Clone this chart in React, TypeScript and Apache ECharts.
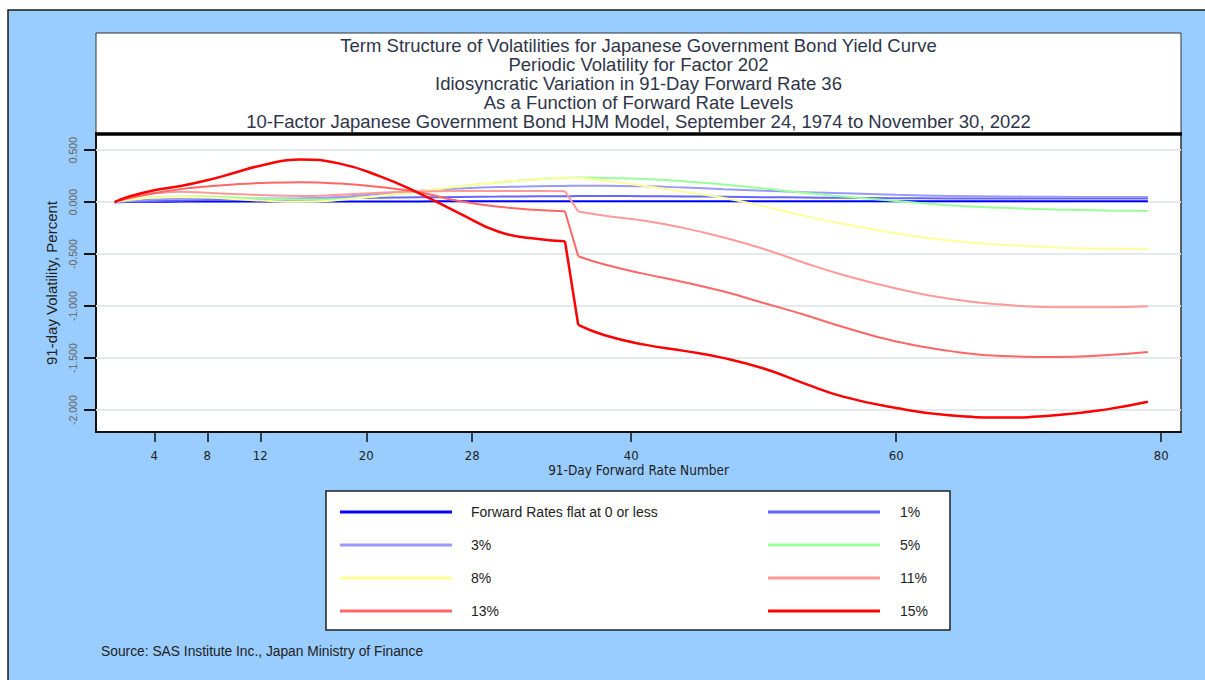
import React, { useEffect, useRef } from "react";
import * as echarts from "echarts";

// ---- data ----
const X_POINTS = [1, 2, 4, 6, 8, 10, 12, 15, 18, 21, 24, 27, 30, 33, 35, 36, 38, 41, 44, 47, 50, 53, 56, 60, 64, 68, 72, 76, 79];
const FLAT = [0, 0.002, 0.004, 0.005, 0.006, 0.006, 0.006, 0.007, 0.007, 0.007, 0.007, 0.008, 0.008, 0.008, 0.008, 0.008, 0.008, 0.008, 0.008, 0.008, 0.008, 0.008, 0.008, 0.008, 0.008, 0.008, 0.008, 0.008, 0.008];
const R1 = [0, 0.003, 0.01, 0.015, 0.02, 0.024, 0.028, 0.033, 0.038, 0.042, 0.046, 0.05, 0.053, 0.056, 0.057, 0.058, 0.058, 0.057, 0.055, 0.052, 0.048, 0.045, 0.041, 0.038, 0.036, 0.035, 0.034, 0.034, 0.034];
const R3 = [0, 0.01, 0.025, 0.035, 0.038, 0.037, 0.035, 0.035, 0.05, 0.08, 0.11, 0.13, 0.145, 0.153, 0.156, 0.157, 0.157, 0.152, 0.14, 0.125, 0.11, 0.095, 0.085, 0.07, 0.06, 0.054, 0.051, 0.05, 0.05];
const R5 = [0, 0.02, 0.045, 0.055, 0.055, 0.045, 0.035, 0.025, 0.03, 0.06, 0.1, 0.15, 0.19, 0.22, 0.232, 0.236, 0.232, 0.222, 0.2, 0.17, 0.13, 0.09, 0.055, 0.01, -0.03, -0.055, -0.07, -0.08, -0.085];
const R8 = [0, 0.02, 0.045, 0.05, 0.045, 0.03, 0.015, 0.003, 0.02, 0.06, 0.105, 0.15, 0.19, 0.22, 0.235, 0.232, 0.205, 0.155, 0.1, 0.04, -0.04, -0.13, -0.21, -0.3, -0.37, -0.41, -0.435, -0.448, -0.45];
const R11 = [0, 0.04, 0.085, 0.1, 0.09, 0.078, 0.068, 0.058, 0.07, 0.09, 0.102, 0.107, 0.108, 0.107, 0.105, -0.09, -0.13, -0.18, -0.25, -0.34, -0.45, -0.58, -0.7, -0.83, -0.93, -0.985, -1.01, -1.01, -1.0];
const R13 = [0, 0.035, 0.085, 0.125, 0.15, 0.17, 0.183, 0.19, 0.178, 0.145, 0.095, 0.01, -0.045, -0.075, -0.087, -0.52, -0.6, -0.69, -0.77, -0.86, -0.97, -1.08, -1.2, -1.34, -1.43, -1.48, -1.49, -1.47, -1.44];
const R15 = [0, 0.05, 0.115, 0.155, 0.21, 0.28, 0.35, 0.41, 0.37, 0.25, 0.085, -0.105, -0.285, -0.355, -0.375, -1.18, -1.28, -1.37, -1.43, -1.5, -1.6, -1.74, -1.87, -1.98, -2.05, -2.07, -2.05, -1.99, -1.92];
const JUMP_INDEX = 14; // last point before the drop (x = 35)

const X_TICKS = [4, 8, 12, 20, 28, 40, 60, 80];
const Y_TICKS = [-2, -1.5, -1, -0.5, 0, 0.5];

const SERIES_DEFS = [
  { name: "Forward Rates flat at 0 or less", color: "#0000ff", width: 2, values: FLAT, jump: false },
  { name: "1%", color: "#6666ff", width: 2, values: R1, jump: false },
  { name: "3%", color: "#9999ff", width: 2, values: R3, jump: false },
  { name: "5%", color: "#99ff99", width: 2, values: R5, jump: false },
  { name: "8%", color: "#ffff99", width: 2, values: R8, jump: false },
  { name: "11%", color: "#ff9999", width: 2, values: R11, jump: true },
  { name: "13%", color: "#ff6666", width: 2, values: R13, jump: true },
  { name: "15%", color: "#ff0000", width: 2.5, values: R15, jump: true },
];

const LEGEND_LEFT = ["Forward Rates flat at 0 or less", "3%", "8%", "13%"];
const LEGEND_RIGHT = ["1%", "5%", "11%", "15%"];

const TITLE_LINES = [
  "Term Structure of Volatilities for Japanese Government Bond Yield Curve",
  "Periodic Volatility for Factor 202",
  "Idiosyncratic Variation in 91-Day Forward Rate 36",
  "As a Function of Forward Rate Levels",
  "10-Factor Japanese Government Bond HJM Model, September 24, 1974 to November 30, 2022",
];

const FONT = "'Liberation Sans', Arial, sans-serif";
const NARROW = "'Liberation Sans Narrow', 'Arial Narrow', 'DejaVu Sans Condensed', sans-serif";

function pts(values: number[], a: number, b: number) {
  return X_POINTS.slice(a, b).map((x, i) => [x, values[a + i]]);
}

export default function App() {
  const ref = useRef<HTMLDivElement>(null);
  useEffect(() => {
    if (!ref.current) return;
    const chart = echarts.init(ref.current, undefined, { renderer: "svg" });

    const series: any[] = [];
    SERIES_DEFS.forEach((d, idx) => {
      const base = {
        name: d.name,
        type: "line",
        showSymbol: false,
        symbol: "none",
        color: d.color,
        lineStyle: { color: d.color, width: d.width },
        z: 2 + idx * 0.01,
        silent: true,
      };
      if (!d.jump) {
        series.push({ ...base, smooth: 0.5, data: pts(d.values, 0, X_POINTS.length) });
      } else {
        series.push({ ...base, smooth: 0.5, data: pts(d.values, 0, JUMP_INDEX + 1) });
        series.push({ ...base, smooth: false, data: pts(d.values, JUMP_INDEX, JUMP_INDEX + 2) });
        series.push({ ...base, smooth: 0.5, data: pts(d.values, JUMP_INDEX + 1, X_POINTS.length) });
      }
    });
    series[0].markLine = {
      silent: true,
      z: 1,
      symbol: "none",
      label: { show: false },
      lineStyle: { color: "#e2eaee", width: 2, type: "solid" },
      data: Y_TICKS.map((v) => ({ yAxis: v })),
    };

    const legendCommon = {
      orient: "vertical",
      top: 505,
      padding: 0,
      itemWidth: 112,
      itemHeight: 3,
      itemGap: 19,
      icon: "rect",
      selectedMode: false,
      textStyle: { fontSize: 14, color: "#222", fontFamily: FONT, lineHeight: 14 },
    };

    chart.setOption({
      animation: false,
      backgroundColor: "#ffffff",
      grid: {
        left: 96,
        top: 134,
        width: 1085,
        height: 298,
        show: true,
        backgroundColor: "#ffffff",
        borderColor: "#333",
        borderWidth: 1.5,
        z: 0,
      },
      xAxis: {
        type: "value",
        min: -0.4,
        max: 81.5,
        name: "91-Day Forward Rate Number",
        nameLocation: "middle",
        nameGap: 31,
        nameTextStyle: { fontSize: 13.5, color: "#222", fontFamily: NARROW },
        axisLine: { show: true, onZero: false, lineStyle: { color: "#111", width: 2 } },
        axisTick: { show: true, length: 10, customValues: X_TICKS, lineStyle: { color: "#111", width: 1.5 } },
        axisLabel: { customValues: X_TICKS, margin: 17, fontSize: 13, color: "#222", fontFamily: NARROW },
        splitLine: { show: false },
      },
      yAxis: {
        type: "value",
        min: -2.21,
        max: 0.655,
        name: "91-day Volatility, Percent",
        nameLocation: "middle",
        nameRotate: 90,
        nameGap: 29,
        nameTextStyle: { fontSize: 15, color: "#222", fontFamily: FONT },
        axisLine: { show: true, onZero: false, lineStyle: { color: "#111", width: 2 } },
        axisTick: { show: true, length: 12, customValues: Y_TICKS, lineStyle: { color: "#111", width: 2 } },
        axisLabel: {
          customValues: Y_TICKS,
          rotate: 90,
          margin: 18,
          fontSize: 10.5,
          color: "#666",
          fontFamily: FONT,
          formatter: (v: number) => v.toFixed(3),
        },
        splitLine: { show: false },
      },
      legend: [
        { ...legendCommon, left: 340, data: LEGEND_LEFT, textStyle: { ...legendCommon.textStyle, padding: [0, 0, 0, 14] } },
        { ...legendCommon, left: 768, data: LEGEND_RIGHT, textStyle: { ...legendCommon.textStyle, padding: [0, 0, 0, 15] } },
      ],
      graphic: [
        {
          type: "rect",
          z: -10,
          silent: true,
          shape: { x: 8, y: 10, width: 1260, height: 720 },
          style: { fill: "#99ccff", stroke: "#1a1a1a", lineWidth: 1.5 },
        },
        {
          type: "rect",
          z: -5,
          silent: true,
          shape: { x: 96, y: 33, width: 1085, height: 101 },
          style: { fill: "#ffffff", stroke: "#333", lineWidth: 1 },
        },
        {
          type: "text",
          z: 5,
          silent: true,
          x: 638.5,
          y: 36,
          style: {
            text: TITLE_LINES.join("\n"),
            fill: "#2f3549",
            font: `18.5px ${FONT}`,
            lineHeight: 19,
            textAlign: "center",
            textVerticalAlign: "top",
          },
        },
        {
          type: "line",
          z: 50,
          silent: true,
          shape: { x1: 95, y1: 134, x2: 1182, y2: 134 },
          style: { stroke: "#000", lineWidth: 3.5 },
        },
        {
          type: "rect",
          z: -5,
          silent: true,
          shape: { x: 326, y: 491, width: 624, height: 139 },
          style: { fill: "#ffffff", stroke: "#222", lineWidth: 1.5 },
        },
        {
          type: "text",
          z: 5,
          silent: true,
          x: 101,
          y: 651,
          style: {
            text: "Source: SAS Institute Inc., Japan Ministry of Finance",
            fill: "#222",
            font: `13.8px ${FONT}`,
            textVerticalAlign: "middle",
          },
        },
      ],
      series,
    });
    return () => chart.dispose();
  }, []);
  return <div ref={ref} style={{ position: "fixed", left: 0, top: 0, width: 1205, height: 680 }} />;
}
